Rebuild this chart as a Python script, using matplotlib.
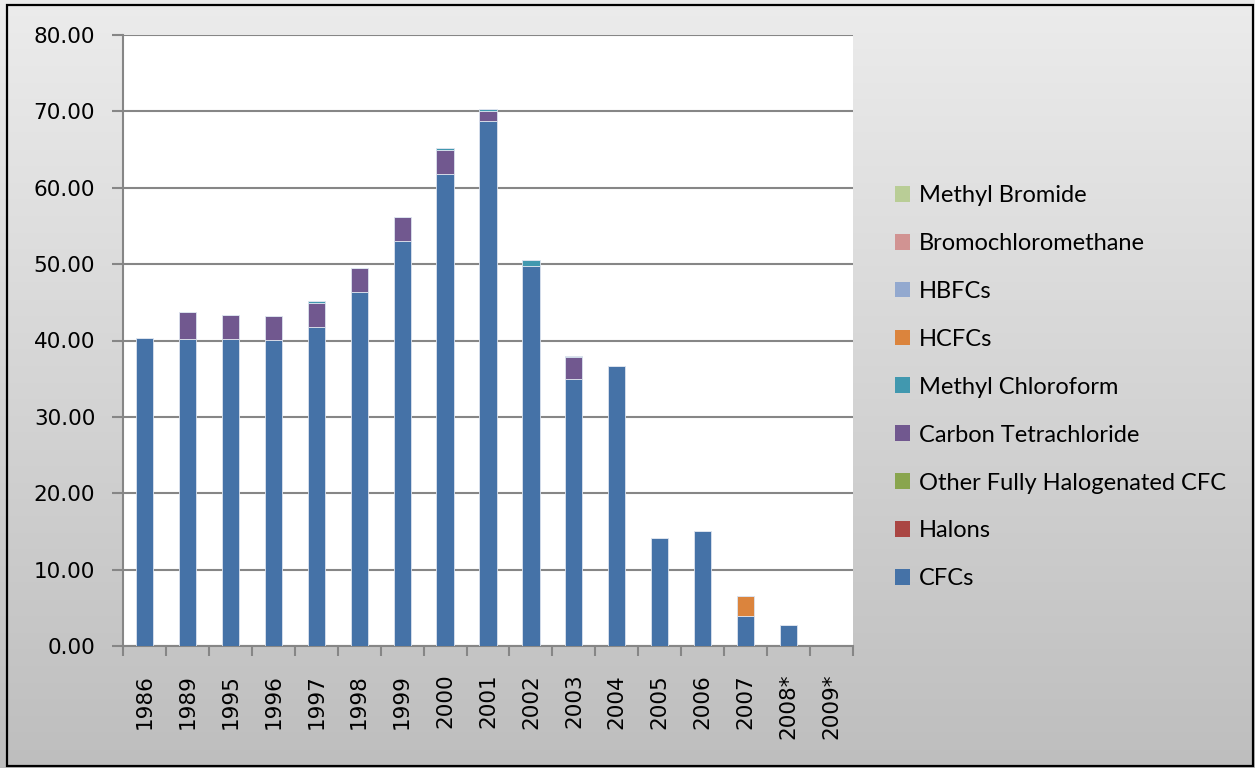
import numpy as np
import matplotlib
matplotlib.use("Agg")
import matplotlib.pyplot as plt
from matplotlib.patches import Patch, Rectangle

years = ['1986', '1989', '1995', '1996', '1997', '1998', '1999', '2000', '2001',
         '2002', '2003', '2004', '2005', '2006', '2007', '2008*', '2009*']

cfcs = [40.3, 40.25, 40.2, 40.05, 41.8, 46.4, 53.05, 61.85, 68.8,
        49.8, 34.9, 36.6, 14.2, 15.1, 3.95, 2.7, 0.0]
halons = [0.0] * 17
other_cfc = [0.0] * 17
carbon_tet = [0.0, 3.5, 3.2, 3.1, 3.15, 3.1, 3.15, 3.1, 1.3,
              0.0, 3.0, 0.0, 0.0, 0.0, 0.0, 0.0, 0.0]
methyl_chloroform = [0.0, 0.0, 0.0, 0.0, 0.25, 0.0, 0.0, 0.2, 0.15,
                     0.7, 0.12, 0.0, 0.0, 0.0, 0.0, 0.0, 0.0]
hcfcs = [0.0] * 14 + [2.6, 0.0, 0.0]
hbfcs = [0.0] * 17
bromochloromethane = [0.0] * 17
methyl_bromide = [0.0] * 17

series_names = ['CFCs', 'Halons', 'Other Fully Halogenated CFC', 'Carbon Tetrachloride',
                'Methyl Chloroform', 'HCFCs', 'HBFCs', 'Bromochloromethane', 'Methyl Bromide']
series_values = [cfcs, halons, other_cfc, carbon_tet, methyl_chloroform,
                 hcfcs, hbfcs, bromochloromethane, methyl_bromide]
colors = ['#4572A7', '#AA4643', '#89A54E', '#71588F', '#4198AF',
          '#DB843D', '#93A9CF', '#D19392', '#B9CD96']
y_ticks = [0, 10, 20, 30, 40, 50, 60, 70, 80]

W, H = 1255, 768
fig = plt.figure(figsize=(W / 100, H / 100), dpi=100)

# background gradient
bg = fig.add_axes([0, 0, 1, 1], zorder=-5)
grad = np.linspace(0, 1, 256).reshape(-1, 1)
top = np.array([0.925, 0.925, 0.925])
bot = np.array([0.745, 0.745, 0.745])
img = top[None, None, :] * (1 - grad[:, :, None]) + bot[None, None, :] * grad[:, :, None]
bg.imshow(img, aspect='auto', extent=[0, 1, 0, 1], origin='upper')
bg.set_xlim(0, 1)
bg.set_ylim(0, 1)
bg.axis('off')
bg.add_patch(Rectangle((7 / W, 1 - 766 / H), (1253 - 7) / W, (766 - 5) / H,
                       fill=False, edgecolor='black', linewidth=1.6))

ax = fig.add_axes([123 / W, 1 - 646 / H, (853 - 123) / W, (646 - 35) / H])
ax.set_facecolor('white')

x = np.arange(len(years))
bottom = np.zeros(len(years))
for name, vals, c in zip(series_names, series_values, colors):
    v = np.array(vals, dtype=float)
    ax.bar(x, v, width=0.4, bottom=bottom, color=c, edgecolor='#DCE3EE',
           linewidth=0.6, zorder=3, label=name)
    bottom += v

ax.set_xlim(-0.5, len(years) - 0.5)
ax.set_ylim(0, 80)
ax.set_yticks(y_ticks)
ax.set_yticklabels([f'{t:.2f}' for t in y_ticks], fontsize=15.5, fontfamily='DejaVu Sans')
ax.yaxis.grid(True, color='#868686', linewidth=1.5, zorder=1)
ax.set_axisbelow(True)

ax.set_xticks(np.arange(-0.5, len(years), 1.0))
ax.set_xticklabels([])
ax.set_xticks(x, minor=True)
ax.set_xticklabels(years, minor=True, rotation=90, fontsize=15.5,
                   fontfamily='DejaVu Sans', va='top', ha='center')
ax.tick_params(axis='x', which='major', length=7, width=1.5, color='#868686', direction='out')
ax.tick_params(axis='x', which='minor', length=0, pad=20)
ax.tick_params(axis='y', length=8, width=1.5, color='#868686', pad=12)

for s in ['top', 'right']:
    ax.spines[s].set_visible(False)
for s in ['left', 'bottom']:
    ax.spines[s].set_color('#868686')
    ax.spines[s].set_linewidth(1.5)

handles = [Patch(facecolor=c, edgecolor='none') for c in colors]
leg = fig.legend(handles[::-1], series_names[::-1], loc='upper left',
                 bbox_to_anchor=(895 / W, 1 - 185 / H), frameon=False,
                 prop={'family': 'Lato', 'size': 17}, handlelength=0.65,
                 handleheight=0.65, handletextpad=0.35, labelspacing=1.14,
                 borderaxespad=0, borderpad=0)

fig.savefig('out.png', dpi=100)
